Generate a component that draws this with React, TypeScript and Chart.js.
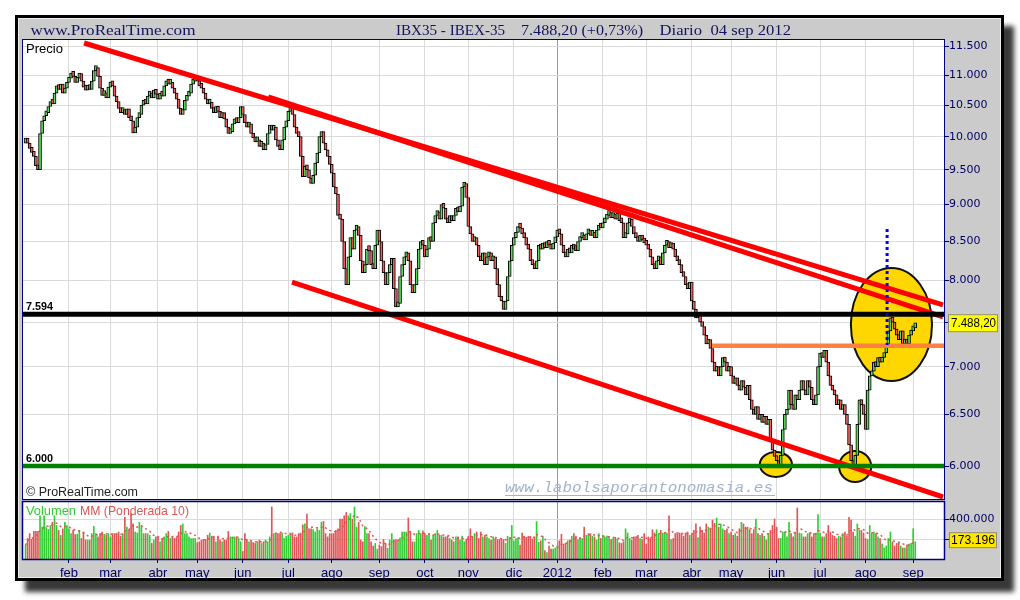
import React, { useEffect, useRef } from "react";
import { Chart, registerables } from "chart.js";

Chart.register(...registerables);

const W = 1020;
const H = 600;

// ---------- axis data ----------
const monthLabels = ["feb", "mar", "abr", "may", "jun", "jul", "ago", "sep", "oct", "nov", "dic", "2012", "feb", "mar", "abr", "may", "jun", "jul", "ago", "sep"];
const monthStarts = [21, 41, 64, 83, 105, 127, 148, 171, 193, 214, 236, 257, 279, 300, 322, 341, 363, 384, 406, 429];
const yearStartIndex = 257;
const priceTicks = [6000, 6500, 7000, 7500, 8000, 8500, 9000, 9500, 10000, 10500, 11000, 11500];
const volumeTicks = [200000, 400000];
const volumeLabelTicks = [400000];

// ---------- daily closes (3 Jan 2011 .. 4 Sep 2012) ----------
const firstOpen = 9900;
const closes = [
  // ene 2011
  9950, 9900, 9820, 9760, 9700, 9560, 9500, 10050, 10250, 10330, 10380, 10480, 10560, 10520, 10700, 10820, 10760, 10850, 10700, 10780, 10880,
  // feb
  10950, 11020, 10980, 10880, 10950, 11030, 10900, 10800, 10750, 10820, 10760, 10900, 11080, 11130, 10980, 10780, 10660, 10700, 10620, 10800,
  // mar
  10880, 10820, 10650, 10560, 10450, 10380, 10420, 10350, 10440, 10300, 10250, 10060, 10150, 10300, 10350, 10500, 10560, 10520, 10650, 10700, 10620, 10750, 10680,
  // abr
  10600, 10700, 10650, 10820, 10900, 10850, 10880, 10780, 10700, 10600, 10450, 10350, 10420, 10580, 10650, 10700, 10850, 10900, 10950,
  // may
  10900, 10820, 10780, 10700, 10600, 10520, 10550, 10450, 10380, 10480, 10400, 10300, 10380, 10280, 10150, 10050, 10080, 10200, 10280, 10220, 10300, 10480,
  // jun
  10350, 10220, 10150, 10200, 10050, 9980, 9920, 9950, 9850, 9900, 9800, 9880, 10050, 10180, 10100, 10150, 9950, 9850, 9800, 9950, 10150, 10250,
  // jul
  10400, 10480, 10350, 10150, 10050, 10000, 9700, 9400, 9550, 9500, 9380, 9300, 9420, 9600, 9750, 10000, 10080, 9900, 9800, 9700, 9580,
  // ago
  9450, 9250, 9150, 8850, 8800, 8500, 8150, 7950, 8300, 8550, 8400, 8650, 8700, 8580, 8250, 8100, 8200, 8400, 8380, 8200, 8150, 8450, 8650,
  // sep
  8500, 8250, 8100, 7950, 8100, 8200, 8280, 7900, 7680, 7720, 8050, 8200, 8300, 8350, 8250, 7950, 7850, 7950, 8150, 8400, 8500, 8450,
  // oct
  8300, 8400, 8550, 8500, 8750, 8850, 8900, 8800, 9000, 8950, 8800, 8750, 8850, 8780, 8850, 8950, 8900, 8980, 9250, 9300, 9100,
  // nov
  8700, 8600, 8500, 8550, 8450, 8300, 8250, 8350, 8200, 8300, 8350, 8250, 8300, 8150, 7950, 7800, 7750, 7650, 7750, 8050, 8250, 8450,
  // dic
  8550, 8620, 8700, 8680, 8600, 8550, 8450, 8400, 8250, 8200, 8150, 8250, 8450, 8400, 8480, 8420, 8500, 8450, 8400, 8480, 8560,
  // ene 2012
  8650, 8600, 8450, 8350, 8300, 8400, 8350, 8450, 8400, 8380, 8500, 8550, 8580, 8520, 8600, 8650, 8580, 8620, 8550, 8650, 8700, 8680,
  // feb
  8750, 8800, 8850, 8870, 8820, 8850, 8800, 8880, 8780, 8750, 8550, 8600, 8750, 8800, 8700, 8600, 8550, 8500, 8580, 8520, 8480,
  // mar
  8450, 8400, 8300, 8200, 8150, 8250, 8300, 8200, 8350, 8450, 8500, 8420, 8480, 8400, 8300, 8250, 8200, 8100, 8050, 7950, 7900, 7980,
  // abr
  7750, 7650, 7550, 7600, 7500, 7450, 7350, 7250, 7300, 7200, 7050, 6950, 7000, 6900, 7000, 7100, 7050, 6950, 7000,
  // may
  6900, 6820, 6880, 6800, 6750, 6850, 6780, 6700, 6800, 6650, 6550, 6500, 6580, 6450, 6500, 6420, 6480, 6400, 6450, 6250, 6150, 6090,
  // jun
  6050, 6000, 6100, 6350, 6500, 6550, 6750, 6600, 6550, 6700, 6650, 6750, 6850, 6750, 6700, 6850, 6780, 6650, 6600, 6700, 7000,
  // jul
  7150, 7100, 7180, 7050, 6900, 6800, 6750, 6700, 6600, 6650, 6550, 6600, 6500, 6400, 6200, 6050, 5980, 6100, 6400, 6650, 6600, 6500,
  // ago
  6350, 6750, 6900, 6950, 7050, 7000, 7100, 7050, 7100, 7150, 7250, 7400, 7550, 7500, 7420, 7350, 7300, 7400, 7250, 7300, 7250, 7350, 7400,
  // sep
  7434, 7488.2,
];

// ---------- daily volume (thousands) ----------
const volumesK = [
  140, 205, 254, 195, 276, 276, 276, 432, 319, 432, 319, 296, 335, 367, 432, 335, 286, 237, 302, 367, 335,
  302, 254, 286, 244, 247, 286, 205, 270, 189, 189, 189, 254, 325, 254, 221, 254, 270, 247, 237, 254,
  221, 254, 254, 254, 270, 228, 254, 416, 319, 293, 455, 351, 270, 260, 367, 335, 254, 254, 254, 237, 156, 189, 221,
  221, 172, 205, 221, 254, 276, 205, 221, 205, 221, 270, 335, 351, 254, 254, 221, 205, 205, 205,
  163, 172, 189, 189, 195, 237, 260, 228, 228, 172, 228, 189, 172, 189, 189, 276, 221, 221, 221, 221, 205, 172,
  75, 254, 195, 172, 172, 163, 156, 172, 189, 156, 172, 189, 172, 221, 520, 254, 254, 254, 254, 260, 205, 228,
  237, 260, 260, 221, 221, 254, 260, 341, 351, 449, 302, 302, 293, 270, 302, 286, 367, 377, 254, 221, 254,
  254, 254, 286, 302, 400, 400, 432, 465, 432, 455, 400, 520, 319, 367, 189, 172, 325, 254, 254, 172, 130, 156, 98,
  140, 124, 195, 156, 107, 189, 254, 189, 195, 189, 211, 270, 270, 270, 410, 270, 172, 172, 254, 286, 254, 280,
  254, 237, 254, 189, 237, 254, 286, 237, 237, 221, 221, 228, 205, 189, 172, 221, 221, 189, 228, 172, 195,
  228, 302, 221, 254, 270, 205, 270, 221, 237, 221, 205, 189, 221, 205, 195, 195, 195, 195, 156, 228, 215, 335,
  182, 205, 211, 140, 260, 228, 218, 224, 228, 199, 221, 374, 166, 182, 228, 85, 65, 130, 98, 98, 110,
  130, 182, 247, 150, 156, 182, 189, 228, 254, 228, 195, 211, 205, 319, 237, 254, 254, 228, 221, 189, 254, 205,
  237, 218, 228, 221, 195, 205, 218, 202, 163, 156, 172, 302, 260, 205, 189, 221, 221, 237, 205, 195, 254,
  150, 221, 205, 293, 260, 293, 254, 286, 260, 260, 260, 432, 195, 205, 254, 254, 260, 254, 228, 260, 270, 237,
  254, 286, 351, 215, 319, 286, 260, 351, 319, 302, 390, 357, 410, 319, 351, 302, 286, 302, 254,
  270, 237, 254, 228, 302, 367, 351, 319, 319, 293, 254, 293, 400, 254, 237, 254, 228, 189, 254, 286, 335, 400,
  319, 205, 205, 270, 270, 221, 367, 254, 221, 270, 510, 260, 254, 221, 221, 254, 260, 221, 254, 260, 445,
  260, 221, 221, 254, 335, 270, 237, 228, 205, 228, 221, 254, 270, 228, 416, 390, 270, 228, 351, 286, 286, 260,
  205, 195, 335, 254, 270, 254, 221, 205, 150, 110, 130, 205, 270, 172, 130, 156, 163, 130, 110, 110, 140, 150, 156,
  303, 173.196,
];

// ---------- drawn objects (index, price) ----------
const trendLines = [
  { x1: 28.3, y1: 11564, x2: 443.4, y2: 7703 },
  { x1: 117.3, y1: 10635, x2: 443.4, y2: 7561 },
  { x1: 128.8, y1: 7982, x2: 443.4, y2: 5719 },
];
const levels = [
  { value: 7594, from: -1.3, color: "#000000", width: 5, label: "7.594" },
  { value: 6000, from: -1.3, color: "#008000", width: 4.5, label: "6.000" },
  { value: 7230, from: 331.8, color: "#ff8040", width: 4.5, label: "" },
];
const ellipses = [
  { i1: 398.9, i2: 438.1, p1: 8158, p2: 6846 },
  { i1: 354.9, i2: 370.4, p1: 6132, p2: 5900 },
  { i1: 393.2, i2: 408.7, p1: 6141, p2: 5854 },
];
const blueMark = { i: 416.4, from: 8666, to: 7239 };

const X_MIN = -1.23;
const X_MAX = 443.9;
const P_MIN = 5701;
const P_MAX = 11618;
const V_MAX = 570000;

// ---------- derived ----------
const opens = closes.map((c, i) => (i === 0 ? firstOpen : closes[i - 1]));
const isUp = closes.map((c, i) => c >= opens[i]);
const volumes = volumesK.map((v) => Math.round(v * 1000));
const lastPrice = closes[closes.length - 1];
const prevClose = closes[closes.length - 2];
const lastVolume = volumes[volumes.length - 1];
const wma10 = volumes.map((_, i) => {
  let s = 0;
  let ws = 0;
  for (let k = 0; k < 10 && i - k >= 0; k++) {
    const w = 10 - k;
    s += w * volumes[i - k];
    ws += w;
  }
  return s / ws;
});

function fmtThousands(v: number) {
  return Math.round(v).toString().replace(/\B(?=(\d{3})+(?!\d))/g, ".");
}
function fmtPrice(v: number) {
  const [a, b] = v.toFixed(2).split(".");
  return fmtThousands(Number(a)) + "," + b;
}
function fmtPct(v: number) {
  const s = (v >= 0 ? "+" : "-") + Math.abs(v).toFixed(2).replace(".", ",");
  return s + "%";
}

const SANS = '"Liberation Sans", Arial, sans-serif';
const AXIS_FONT = { family: '"DejaVu Sans", Verdana, sans-serif', size: 11 };
const NAVY = "#000066";
const GRID = "#dadada";

function drawFit(ctx: any, text: string, x: number, y: number, w: number, font: string, color: string) {
  ctx.save();
  ctx.font = font;
  ctx.fillStyle = color;
  ctx.textAlign = "left";
  ctx.textBaseline = "middle";
  const m = ctx.measureText(text).width || 1;
  ctx.translate(x, y);
  ctx.scale(w / m, 1);
  ctx.fillText(text, 0, 0);
  ctx.restore();
}

const gridColor = (c: any) => (c.tick && c.tick.value === yearStartIndex ? "#9c9c9c" : GRID);

const pricePlugin = {
  id: "priceDecor",
  beforeDraw(chart: any) {
    const { ctx, chartArea: a } = chart;
    ctx.save();
    ctx.fillStyle = "#ffffff";
    ctx.fillRect(0, 0, W, H);
    ctx.shadowColor = "rgba(0,0,0,0.78)";
    ctx.shadowBlur = 5;
    ctx.shadowOffsetX = 10;
    ctx.shadowOffsetY = 11;
    ctx.fillStyle = "#cbcbcb";
    ctx.fillRect(15, 15, 989, 566);
    ctx.shadowColor = "rgba(0,0,0,0)";
    ctx.shadowBlur = 0;
    ctx.shadowOffsetX = 0;
    ctx.shadowOffsetY = 0;
    ctx.strokeStyle = "#000000";
    ctx.lineWidth = 3;
    ctx.strokeRect(16.5, 16.5, 986, 563);
    ctx.strokeStyle = "#ececec";
    ctx.lineWidth = 1;
    ctx.strokeRect(18.5, 18.5, 982, 559);
    ctx.fillStyle = "#ffffff";
    ctx.fillRect(a.left, a.top, a.right - a.left, a.bottom - a.top);
    const hf = '15px "Liberation Serif", "Times New Roman", serif';
    const hc = "#141460";
    drawFit(ctx, "www.ProRealTime.com", 30.5, 31, 165, hf, hc);
    drawFit(ctx, "IBX35 - IBEX-35", 396, 31, 109, hf, hc);
    drawFit(ctx, fmtPrice(lastPrice) + " (" + fmtPct((lastPrice / prevClose - 1) * 100) + ")", 521, 31, 122, hf, hc);
    drawFit(ctx, "Diario  04 sep 2012", 659.5, 31, 131.5, hf, hc);
    ctx.restore();
  },
  beforeDatasetsDraw(chart: any) {
    const { ctx, chartArea: a, scales } = chart;
    const xs = scales.x;
    const ys = scales.y;
    ctx.save();
    ctx.beginPath();
    ctx.rect(a.left, a.top, a.right - a.left, a.bottom - a.top);
    ctx.clip();
    for (const e of ellipses) {
      const x1 = xs.getPixelForValue(e.i1);
      const x2 = xs.getPixelForValue(e.i2);
      const y1 = ys.getPixelForValue(e.p1);
      const y2 = ys.getPixelForValue(e.p2);
      ctx.beginPath();
      ctx.ellipse((x1 + x2) / 2, (y1 + y2) / 2, Math.abs(x2 - x1) / 2, Math.abs(y2 - y1) / 2, 0, 0, Math.PI * 2);
      ctx.fillStyle = "#ffd700";
      ctx.fill();
      ctx.lineWidth = 2;
      ctx.strokeStyle = "#111111";
      ctx.stroke();
    }
    ctx.restore();
  },
  afterDraw(chart: any) {
    const { ctx, chartArea: a, scales } = chart;
    const ys = scales.y;
    ctx.save();
    ctx.strokeStyle = "#000080";
    ctx.lineWidth = 1;
    ctx.strokeRect(a.left - 0.5, a.top - 0.5, a.right - a.left + 1, a.bottom - a.top + 1);
    drawFit(ctx, "Precio", 26, 49.5, 37, "13px " + SANS, "#000000");
    drawFit(ctx, "© ProRealTime.com", 26, 493, 112, "12px " + SANS, "#222222");
    drawFit(ctx, "www.labolsaporantonomasia.es", 505, 488.5, 268, 'italic 15px "Liberation Mono", "DejaVu Sans Mono", monospace', "#a2b3cb");
    ctx.fillStyle = "#a2b3cb";
    ctx.fillRect(505, 495, 270, 1);
    for (const L of levels) {
      if (!L.label) continue;
      drawFit(ctx, L.label, 26, ys.getPixelForValue(L.value) - 7.5, 27, "bold 11px " + SANS, "#000000");
    }
    const py = ys.getPixelForValue(lastPrice);
    ctx.fillStyle = "#ffff00";
    ctx.fillRect(948, py - 9, 50, 18);
    ctx.strokeStyle = "#8a8a8a";
    ctx.strokeRect(948.5, py - 8.5, 49, 17);
    drawFit(ctx, fmtPrice(lastPrice), 951, py + 0.5, 45, "12px " + SANS, "#000000");
    ctx.restore();
  },
};

const volumePlugin = {
  id: "volumeDecor",
  beforeDraw(chart: any) {
    const { ctx, chartArea: a } = chart;
    ctx.save();
    ctx.fillStyle = "#ffffff";
    ctx.fillRect(a.left, a.top, a.right - a.left, a.bottom - a.top);
    ctx.restore();
  },
  afterDraw(chart: any) {
    const { ctx, chartArea: a, scales } = chart;
    const vs = scales.y;
    ctx.save();
    ctx.strokeStyle = "#000080";
    ctx.lineWidth = 1.5;
    ctx.strokeRect(a.left - 0.5, a.top - 0.5, a.right - a.left + 1, a.bottom - a.top + 1);
    drawFit(ctx, "Volumen", 26, 511.5, 50, "13px " + SANS, "#33cc33");
    drawFit(ctx, "MM (Ponderada 10)", 80, 511.5, 109, "13px " + SANS, "#e05555");
    const vy = vs.getPixelForValue(lastVolume) - 1.5;
    ctx.fillStyle = "#ffe600";
    ctx.fillRect(949, vy - 8, 48, 16);
    ctx.strokeStyle = "#8a8a8a";
    ctx.lineWidth = 1;
    ctx.strokeRect(949.5, vy - 7.5, 47, 15);
    drawFit(ctx, fmtThousands(lastVolume), 951, vy + 0.5, 44, "12px " + SANS, "#000000");
    ctx.restore();
  },
};

function priceConfig(): any {
  const candleData = closes.map((c, i) => ({ x: i, y: [opens[i], c] }));
  const candleColors = isUp.map((u) => (u ? "#5cd65c" : "#f05b5b"));
  const datasets: any[] = [
    {
      type: "bar",
      data: candleData,
      backgroundColor: candleColors,
      borderColor: "#000000",
      borderWidth: 1,
      borderSkipped: false,
      barThickness: 3,
      minBarLength: 5,
      grouped: false,
      order: 10,
    },
  ];
  for (const t of trendLines) {
    datasets.push({
      type: "line",
      data: [{ x: t.x1, y: t.y1 }, { x: t.x2, y: t.y2 }],
      borderColor: "#ff0000",
      borderWidth: 5,
      pointRadius: 0,
      fill: false,
      order: 4,
    });
  }
  for (const L of levels) {
    datasets.push({
      type: "line",
      data: [{ x: L.from, y: L.value }, { x: X_MAX, y: L.value }],
      borderColor: L.color,
      borderWidth: L.width,
      pointRadius: 0,
      fill: false,
      order: 3,
    });
  }
  datasets.push({
    type: "line",
    data: [{ x: blueMark.i, y: blueMark.from }, { x: blueMark.i, y: blueMark.to }],
    borderColor: "#0000ff",
    borderWidth: 3,
    borderDash: [3, 3],
    pointRadius: 0,
    fill: false,
    order: 0,
  });
  return {
    type: "bar",
    data: { datasets },
    options: {
      responsive: false,
      maintainAspectRatio: false,
      animation: false,
      events: [],
      layout: { padding: { left: 23, top: 40, right: 16, bottom: 101 } },
      plugins: { legend: { display: false }, tooltip: { enabled: false } },
      scales: {
        x: {
          type: "linear",
          min: X_MIN,
          max: X_MAX,
          offset: false,
          afterBuildTicks: (s: any) => {
            s.ticks = monthStarts.map((v) => ({ value: v }));
          },
          afterFit: (s: any) => {
            s.height = 0;
          },
          ticks: { display: false },
          grid: { offset: false, drawTicks: false, color: gridColor, lineWidth: 1 },
          border: { display: false },
        },
        y: {
          type: "logarithmic",
          position: "right",
          min: P_MIN,
          max: P_MAX,
          afterBuildTicks: (s: any) => {
            s.ticks = priceTicks.map((v) => ({ value: v }));
          },
          afterFit: (s: any) => {
            s.width = 60;
          },
          ticks: {
            callback: (v: any) => fmtThousands(Number(v)),
            color: NAVY,
            font: AXIS_FONT,
            padding: 0,
            autoSkip: false,
          },
          grid: { color: GRID, tickColor: NAVY, tickLength: 5, lineWidth: 1 },
          border: { display: false },
        },
      },
    },
    plugins: [pricePlugin],
  };
}

function volumeConfig(): any {
  const volColors = isUp.map((u) => (u ? "#33cc33" : "#e05555"));
  return {
    type: "bar",
    data: {
      datasets: [
        {
          type: "bar",
          data: volumes.map((v, i) => ({ x: i, y: v })),
          backgroundColor: volColors,
          borderWidth: 0,
          barThickness: 1,
          grouped: false,
          order: 5,
        },
        {
          type: "line",
          data: wma10.map((v, i) => ({ x: i, y: v })),
          borderColor: "#e05555",
          borderWidth: 1.5,
          borderDash: [2, 3],
          pointRadius: 0,
          fill: false,
          order: 1,
        },
      ],
    },
    options: {
      responsive: false,
      maintainAspectRatio: false,
      animation: false,
      events: [],
      layout: { padding: { left: 23, top: 502, right: 16, bottom: 0 } },
      plugins: { legend: { display: false }, tooltip: { enabled: false } },
      scales: {
        x: {
          type: "linear",
          min: X_MIN,
          max: X_MAX,
          offset: false,
          afterBuildTicks: (s: any) => {
            s.ticks = monthStarts.map((v) => ({ value: v }));
          },
          afterFit: (s: any) => {
            s.height = 41;
          },
          ticks: {
            callback: (_v: any, i: number) => monthLabels[i],
            color: NAVY,
            font: { family: SANS, size: 13 },
            maxRotation: 0,
            autoSkip: false,
            padding: 3,
          },
          grid: { offset: false, color: gridColor, tickColor: NAVY, tickLength: 4, lineWidth: 1 },
          border: { display: false },
        },
        y: {
          type: "linear",
          position: "right",
          min: 0,
          max: V_MAX,
          afterBuildTicks: (s: any) => {
            s.ticks = volumeTicks.map((v) => ({ value: v }));
          },
          afterFit: (s: any) => {
            s.width = 60;
          },
          ticks: {
            callback: (v: any) => (volumeLabelTicks.includes(Number(v)) ? fmtThousands(Number(v)) : ""),
            color: NAVY,
            font: AXIS_FONT,
            padding: 0,
            autoSkip: false,
          },
          grid: { color: GRID, tickColor: NAVY, tickLength: 5, lineWidth: 1 },
          border: { display: false },
        },
      },
    },
    plugins: [volumePlugin],
  };
}

export default function App() {
  const priceRef = useRef<HTMLCanvasElement | null>(null);
  const volRef = useRef<HTMLCanvasElement | null>(null);

  useEffect(() => {
    if (!priceRef.current || !volRef.current) return;
    const pc = new Chart(priceRef.current, priceConfig());
    const vc = new Chart(volRef.current, volumeConfig());
    return () => {
      pc.destroy();
      vc.destroy();
    };
  }, []);

  return (
    <div style={{ position: "absolute", left: 0, top: 0, width: W, height: H, background: "#ffffff" }}>
      <canvas ref={priceRef} width={W} height={H} style={{ position: "absolute", left: 0, top: 0, width: W, height: H }} />
      <canvas ref={volRef} width={W} height={H} style={{ position: "absolute", left: 0, top: 0, width: W, height: H }} />
    </div>
  );
}
